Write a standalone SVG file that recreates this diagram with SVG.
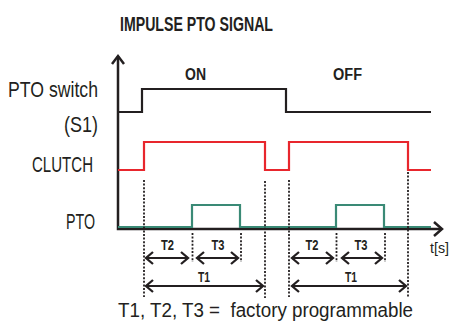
<svg xmlns="http://www.w3.org/2000/svg" width="450" height="334" viewBox="0 0 450 334">
<style>
text{font-family:"Liberation Sans","DejaVu Sans",sans-serif;fill:#231f20}
.lbl{font-size:22.5px}
.bold{font-weight:bold}
.t{font-size:15px;font-weight:bold;text-anchor:middle}
.sig{fill:none;stroke-width:2.2;stroke-linejoin:miter}
.dot{stroke:#231f20;stroke-width:1.8;stroke-dasharray:2 1.6;fill:none}
.dim{stroke:#231f20;stroke-width:2;fill:none;marker-start:url(#ch);marker-end:url(#ch)}
.ax{stroke:#231f20;stroke-width:2.5;fill:none}
</style>
<defs>
<marker id="ch" markerUnits="userSpaceOnUse" markerWidth="12" markerHeight="14" refX="9" refY="7" orient="auto-start-reverse" overflow="visible">
<path d="M2,1 L9,7 L2,13" fill="none" stroke="#231f20" stroke-width="2.3"/>
</marker>
</defs>
<g id="title"><text class="bold" x="120" y="31" font-size="19.5" textLength="153" lengthAdjust="spacingAndGlyphs">IMPULSE PTO SIGNAL</text></g>
<g id="labels">
<text class="lbl" x="8" y="97" textLength="90" lengthAdjust="spacingAndGlyphs">PTO switch</text>
<text class="lbl" x="64" y="132" textLength="34" lengthAdjust="spacingAndGlyphs">(S1)</text>
<text class="lbl" x="32" y="172" textLength="61" lengthAdjust="spacingAndGlyphs">CLUTCH</text>
<text class="lbl" x="66" y="229" textLength="29" lengthAdjust="spacingAndGlyphs">PTO</text>
<text class="bold" x="185" y="80" font-size="16" textLength="21" lengthAdjust="spacingAndGlyphs">ON</text>
<text class="bold" x="333" y="80" font-size="16" textLength="29" lengthAdjust="spacingAndGlyphs">OFF</text>
<text x="430" y="253" font-size="15" textLength="19" lengthAdjust="spacingAndGlyphs">t[s]</text>
<text x="118" y="317" font-size="20" textLength="295" lengthAdjust="spacingAndGlyphs" xml:space="preserve">T1, T2, T3 =  factory programmable</text>
</g>
<g id="axes">
<path class="ax" d="M118,56 V229 H441"/>
<path class="ax" d="M112,64 L118,56 L124,64"/>
<path class="ax" d="M434,222 L442,229 L434,236"/>
</g>
<g id="pto-switch"><path class="sig" stroke="#231f20" d="M118,112 H142 V89 H286 V112 H431"/></g>
<g id="clutch"><path class="sig" stroke="#e8262d" d="M118,170 H144 V142 H265 V170 H289 V142 H408 V170 H431"/></g>
<g id="pto"><path class="sig" stroke="#3a8a76" stroke-width="2.5" d="M118,227 H192 V205 H240 V227 H336 V205 H384 V227 H431"/></g>
<g id="connectors">
<path class="dot" d="M144,180 V297 M192.5,233 V262 M241,233 V262 M265,181 V298 M289,180 V297 M336.5,233 V262 M385,233 V262 M408,172 V297"/>
<path class="dim" d="M146,258 H188"/>
<path class="dim" d="M197,258 H238"/>
<path class="dim" d="M146,286 H263"/>
<path class="dim" d="M292,258 H333"/>
<path class="dim" d="M342,258 H382"/>
<path class="dim" d="M292,286 H406"/>
</g>
<g id="dim-labels">
<text class="t" x="167.5" y="250" textLength="13" lengthAdjust="spacingAndGlyphs">T2</text>
<text class="t" x="218" y="250" textLength="13" lengthAdjust="spacingAndGlyphs">T3</text>
<text class="t" x="204" y="282" textLength="12" lengthAdjust="spacingAndGlyphs">T1</text>
<text class="t" x="312" y="250" textLength="13" lengthAdjust="spacingAndGlyphs">T2</text>
<text class="t" x="361" y="250" textLength="13" lengthAdjust="spacingAndGlyphs">T3</text>
<text class="t" x="351" y="282" textLength="12" lengthAdjust="spacingAndGlyphs">T1</text>
</g>
</svg>
